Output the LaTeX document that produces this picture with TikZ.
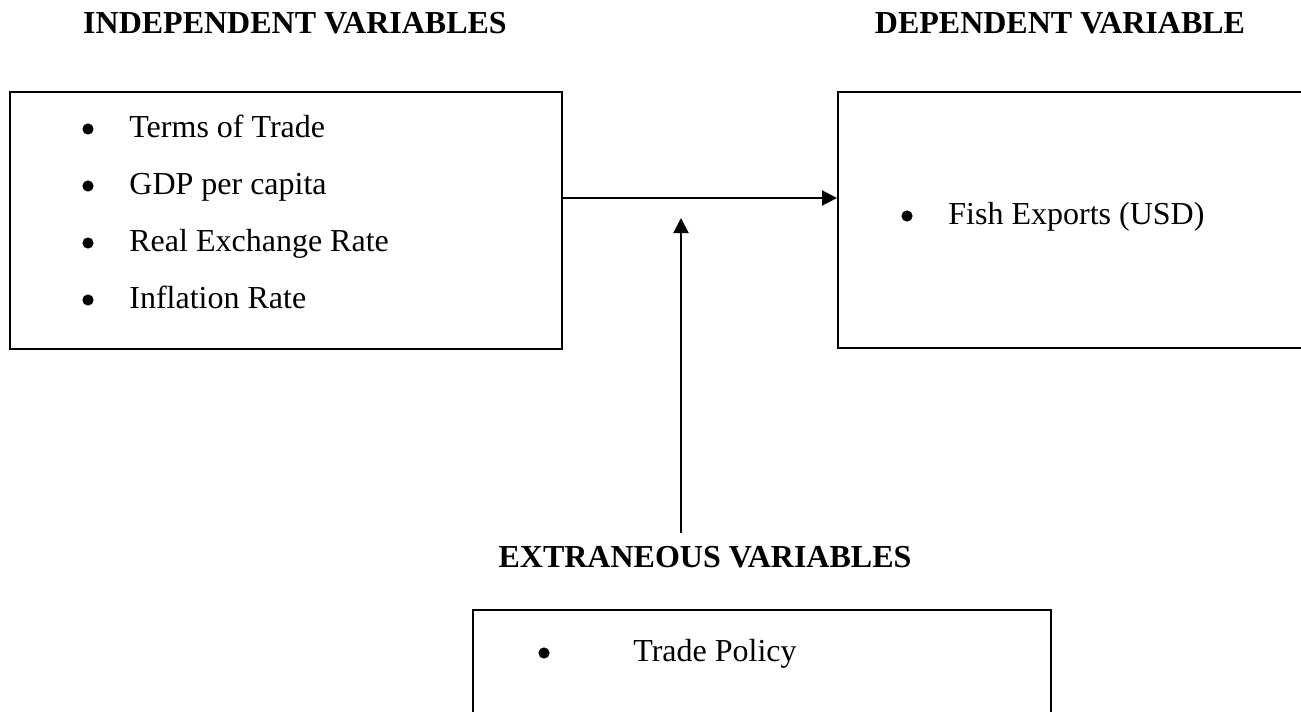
\documentclass[tikz,border=0pt]{standalone}
\usepackage{fontspec}
\setmainfont{Liberation Serif}
\usetikzlibrary{arrows.meta}
\tikzset{
  box/.style={draw, line width=1pt, rectangle, inner sep=0pt},
  txt/.style={anchor=base west, inner sep=0pt, font=\fontsize{16}{19}\selectfont},
  bul/.style={circle, fill, inner sep=0pt, minimum size=5.6pt},
  head/.style={anchor=base, inner sep=0pt, font=\fontsize{16}{19}\selectfont\bfseries},
  arr/.style={line width=1pt, -{Triangle[length=7.5pt, width=7.5pt]}}
}
\begin{document}
\begin{tikzpicture}[x=0.5pt, y=-0.5pt]
\useasboundingbox (0,0) rectangle (1301,712);
\clip (0,0) rectangle (1301,712);
% headings
\node[head] (hindep) at (295,33) {INDEPENDENT VARIABLES};
\node[head] (hdep) at (1060,33) {DEPENDENT VARIABLE};
\node[head] (hextr) at (705,567) {EXTRANEOUS VARIABLES};
% boxes
\node[box, minimum width=276pt, minimum height=128.5pt] (indep) at (286,220.5) {};
\node[box, minimum width=241pt, minimum height=128pt] (dep) at (1079,220) {};
\node[box, minimum width=289pt, minimum height=75pt] (extr) at (762,685) {};
% left list
\node[bul] (b1) at (88,129) {};
\node[txt] (t1) at (129,137) {Terms of Trade};
\node[bul] (b2) at (88,186) {};
\node[txt] (t2) at (129,194) {GDP per capita};
\node[bul] (b3) at (88,243) {};
\node[txt] (t3) at (129,251) {Real Exchange Rate};
\node[bul] (b4) at (88,300) {};
\node[txt] (t4) at (129,308) {Inflation Rate};
% right list
\node[bul] (b5) at (907,216) {};
\node[txt] (t5) at (948,224) {Fish Exports (USD)};
% bottom list
\node[bul] (b6) at (544,653) {};
\node[txt] (t6) at (633,661) {Trade Policy};
% connectors
\draw[arr] ([yshift=11.25pt]indep.east) -- ([yshift=11pt]dep.west);
\coordinate (vstart) at (681,533);
\coordinate (vend) at (681,218);
\draw[arr] (vstart) -- (vend);
\end{tikzpicture}
\end{document}
